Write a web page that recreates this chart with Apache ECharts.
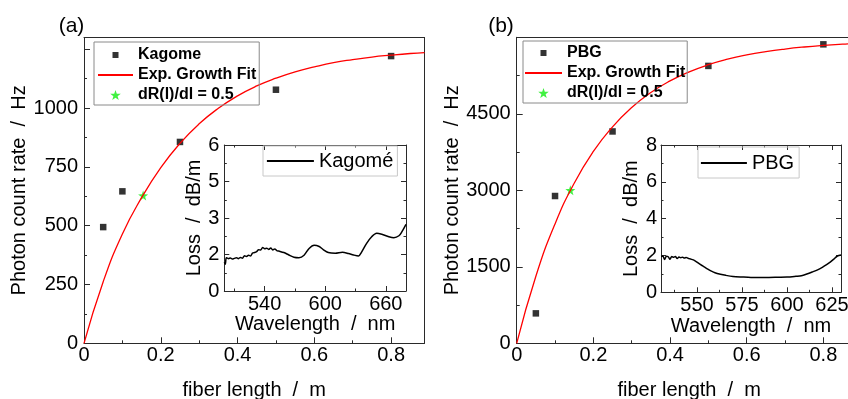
<!DOCTYPE html>
<html>
<head>
<meta charset="utf-8">
<script src="https://cdn.jsdelivr.net/npm/echarts@6/dist/echarts.min.js"></script>
<style>
    html, body { margin: 0; padding: 0; background: #fff; }
    #chart { width: 848px; height: 399px; }
</style>
</head>
<body>
<div id="chart"></div>
<script>
// (a) Kagome fibre
const kagLen = [0.05, 0.1, 0.25, 0.5, 0.8];
const kagRate = [494, 646, 856, 1078, 1221];
const kagStarLen = [0.154];
const kagStarRate = [628];
const kagFitLen = [0, 0.05, 0.1, 0.15, 0.2, 0.25, 0.3, 0.35, 0.4, 0.45, 0.5, 0.55, 0.6, 0.65, 0.7, 0.75, 0.8, 0.85, 0.887];
const kagFitRate = [0, 262, 465, 619, 747, 850, 933, 999, 1052, 1094, 1127, 1154, 1175, 1193, 1206, 1217, 1225, 1232, 1236];

// (b) PBG fibre
const pbgLen = [0.05, 0.1, 0.25, 0.5, 0.8];
const pbgRate = [587, 2888, 4154, 5439, 5862];
const pbgStarLen = [0.14];
const pbgStarRate = [3000];
const pbgFitLen = [0, 0.05, 0.1, 0.15, 0.2, 0.25, 0.3, 0.35, 0.4, 0.45, 0.5, 0.55, 0.6, 0.65, 0.7, 0.75, 0.8, 0.85, 0.9];
const pbgFitRate = [0, 1316, 2341, 3139, 3761, 4245, 4623, 4917, 5145, 5323, 5462, 5570, 5654, 5719, 5770, 5810, 5841, 5865, 5884];

// insets: loss spectra
const kagWl = [500, 501, 502, 504, 506, 508, 510, 512, 514, 516, 518, 520, 522, 524, 526, 528, 530, 532, 534, 536,
    538, 540, 542, 544, 546, 548, 550, 552, 554, 559, 564, 569, 574, 579, 584, 589, 594, 598, 603, 610,
    617, 623, 628, 633, 636, 641, 646, 651, 656, 663, 668, 673, 676, 680];
const kagLoss = [1.18, 1.10, 1.37, 1.33, 1.36, 1.31, 1.34, 1.37, 1.33, 1.38, 1.35, 1.45, 1.42, 1.47, 1.44, 1.56, 1.58, 1.62, 1.70, 1.68,
    1.79, 1.74, 1.76, 1.71, 1.77, 1.69, 1.73, 1.66, 1.64, 1.58, 1.48, 1.39, 1.37, 1.47, 1.75, 1.88, 1.83, 1.70, 1.58, 1.55,
    1.59, 1.54, 1.48, 1.44, 1.60, 1.96, 2.23, 2.37, 2.33, 2.23, 2.19, 2.27, 2.44, 2.74];
const pbgWl = [530, 531, 532, 533, 534, 535, 536, 537, 538, 539, 540, 541, 542, 543, 544, 545, 546, 548, 550, 552,
    554, 556, 558, 560, 563, 566, 570, 575, 580, 585, 590, 595, 600, 605, 608, 611, 614, 617, 620, 622,
    624, 626, 628, 630];
const pbgLoss = [1.95, 1.97, 1.78, 1.96, 1.93, 1.80, 1.95, 1.90, 1.94, 1.83, 1.92, 1.88, 1.91, 1.86, 1.89, 1.85, 1.82, 1.76, 1.64, 1.50,
    1.38, 1.26, 1.15, 1.06, 0.98, 0.92, 0.86, 0.83, 0.81, 0.81, 0.81, 0.82, 0.83, 0.87, 0.90, 0.99, 1.10, 1.22, 1.38, 1.50,
    1.64, 1.80, 1.97, 2.02];

// tick values
const aLenTicks = [0, 0.2, 0.4, 0.6, 0.8];
const aLenMinor = [0.1, 0.3, 0.5, 0.7];
const aRateTicks = [0, 250, 500, 750, 1000, 1250];
const aRateLabels = [0, 250, 500, 750, 1000];
const aRateMinor = [125, 375, 625, 875, 1125];
const bRateTicks = [0, 1500, 3000, 4500, 6000];
const bRateLabels = [0, 1500, 3000, 4500];
const bRateMinor = [750, 2250, 3750, 5250];
const kagWlTicks = [540, 600, 660];
const kagWlMinor = [510, 570, 630];
const kagLossTicks = [0, 1.5, 3, 4.5, 6];
const kagLossMinor = [0.75, 2.25, 3.75, 5.25];
const pbgWlTicks = [550, 575, 600, 625];
const pbgWlMinor = [537.5, 562.5, 587.5, 612.5];
const pbgLossTicks = [0, 2, 4, 6, 8];
const pbgLossMinor = [1, 3, 5, 7];

const FONT = '"Liberation Sans", Arial, sans-serif';
const AX = '#2a2a2a';
const RED = '#ff0000';
const GREEN = '#11ee11';
const STAR = 'path://M0,-10L2.351,-3.236L9.511,-3.090L3.804,1.236L5.878,8.090L0,4L-5.878,8.090L-3.804,1.236L-9.511,-3.090L-2.351,-3.236Z';
const SQUARE_ICON = 'path://M0,0M2,2L8,2L8,8L2,8ZM10,10';

const zip = (xs, ys) => xs.map((x, i) => [x, ys[i]]);
const xAxes = [], yAxes = [];

// one labelled side + minor ticks + opposite frame side, returns index of labelled axis
function axisSet(gi, dim, range, o) {
    const list = dim === 'x' ? xAxes : yAxes;
    const near = dim === 'x' ? 'bottom' : 'left';
    const far = dim === 'x' ? 'top' : 'right';
    const base = (pos) => ({
        type: 'value', gridIndex: gi, position: pos, min: range[0], max: range[1],
        splitLine: {show: false}, axisLabel: {show: false}, axisTick: {show: false},
        axisLine: {show: false, onZero: false, lineStyle: {color: AX, width: 1}}
    });
    const ticks = (vals, len) => ({show: true, inside: true, length: len, customValues: vals, lineStyle: {color: AX, width: 1}});

    const main = base(near);
    main.axisLine.show = true;
    main.axisTick = ticks(o.major, o.len);
    main.axisLabel = {
        show: true, customValues: o.labels, margin: o.margin, color: '#000', fontSize: 20, fontFamily: FONT,
        formatter: o.formatter || (v => String(v))
    };
    main.name = o.name;
    main.nameLocation = 'middle';
    main.nameGap = o.nameGap;
    main.nameTextStyle = {color: '#000', fontSize: 20, fontFamily: FONT};
    const idx = list.length;
    list.push(main);

    const minor = base(near);
    minor.axisTick = ticks(o.minor, o.len / 2);
    list.push(minor);

    const opp = base(far);
    opp.axisLine.show = true;
    if (o.mirror) {
        opp.axisTick = ticks(o.major, o.len);
        const opp2 = base(far);
        opp2.axisTick = ticks(o.minor, o.len / 2);
        list.push(opp, opp2);
    } else {
        list.push(opp);
    }
    return idx;
}

const grids = [
    {left: 84, top: 37.5, width: 340.5, height: 305.8, outerBoundsMode: 'none'},
    {left: 224.3, top: 145, width: 181.7, height: 146, outerBoundsMode: 'none'},
    {left: 516.7, top: 37.3, width: 345, height: 306, outerBoundsMode: 'none'},
    {left: 661, top: 145, width: 180, height: 147.3, outerBoundsMode: 'none'}
];

const aX = axisSet(0, 'x', [0, 0.887], {major: aLenTicks, minor: aLenMinor, labels: aLenTicks, len: 6, margin: 2, name: 'fiber length  /  m', nameGap: 37});
const aY = axisSet(0, 'y', [0, 1300], {major: aRateTicks, minor: aRateMinor, labels: aRateLabels, len: 6, margin: 6, name: 'Photon count rate  /  Hz', nameGap: 53});
const iaX = axisSet(1, 'x', [500, 680], {major: kagWlTicks, minor: kagWlMinor, labels: kagWlTicks, len: 5, margin: 3, name: 'Wavelength  /  nm', nameGap: 20, mirror: true});
const iaY = axisSet(1, 'y', [0, 6], {major: kagLossTicks, minor: kagLossMinor, labels: kagLossTicks, len: 5, margin: 5, name: 'Loss  /  dB/m', nameGap: 9, mirror: true, formatter: v => String(Math.round(v))});
const bX = axisSet(2, 'x', [0, 0.9], {major: aLenTicks, minor: aLenMinor, labels: aLenTicks, len: 6, margin: 2, name: 'fiber length  /  m', nameGap: 37});
const bY = axisSet(2, 'y', [0, 6000], {major: bRateTicks, minor: bRateMinor, labels: bRateLabels, len: 6, margin: 6, name: 'Photon count rate  /  Hz', nameGap: 54});
const ibX = axisSet(3, 'x', [530, 630], {major: pbgWlTicks, minor: pbgWlMinor, labels: pbgWlTicks, len: 5, margin: 3, name: 'Wavelength  /  nm', nameGap: 24, mirror: true});
const ibY = axisSet(3, 'y', [0, 8], {major: pbgLossTicks, minor: pbgLossMinor, labels: pbgLossTicks, len: 5, margin: 4, name: 'Loss  /  dB/m', nameGap: 14, mirror: true});

const mainLegend = (left, top, first, pad, itemWidth) => ({
    orient: 'vertical', left: left, top: top, padding: pad, itemGap: 4, itemWidth: itemWidth, itemHeight: 10,
    borderColor: '#8a8a8a', borderWidth: 1, selectedMode: false,
    textStyle: {fontSize: 16, fontWeight: 'bold', color: '#000', fontFamily: FONT},
    data: [
        {name: first, icon: SQUARE_ICON},
        {name: 'Exp. Growth Fit', itemStyle: {opacity: 0}},
        {name: 'dR(l)/dl = 0.5'}
    ]
});
const insetLegend = (left, top, name, pad, itemWidth) => ({
    left: left, top: top, padding: pad, itemWidth: itemWidth, itemHeight: 14,
    borderColor: '#c8c8c8', borderWidth: 1, selectedMode: false,
    lineStyle: {width: 1.8},
    textStyle: {fontSize: 20, color: '#000', fontFamily: FONT},
    formatter: n => n.replace(' loss', ''),
    data: [{name: name, itemStyle: {opacity: 0}}]
});

const chart = echarts.init(document.getElementById('chart'));
chart.setOption({
    animation: false,
    backgroundColor: '#fff',
    grid: grids,
    xAxis: xAxes,
    yAxis: yAxes,
    legend: [
        mainLegend(94, 42, 'Kagome', [5, 3, 2, 3], 35),
        mainLegend(523, 41, 'PBG', [4, 2, 2, 1], 37),
        insetLegend(263, 146, 'Kagomé loss', [5, 4, 5, 3], 47),
        insetLegend(698, 147, 'PBG loss', [6, 5, 5, 2], 46)
    ],
    graphic: [
        {type: 'text', x: 71.5, y: 26, style: {text: '(a)', font: '21px ' + FONT, fill: '#000', textAlign: 'center', textVerticalAlign: 'middle'}},
        {type: 'text', x: 501, y: 26, style: {text: '(b)', font: '21px ' + FONT, fill: '#000', textAlign: 'center', textVerticalAlign: 'middle'}}
    ],
    series: [
        {type: 'line', name: 'Exp. Growth Fit', xAxisIndex: aX, yAxisIndex: aY, data: zip(kagFitLen, kagFitRate),
            smooth: 0.5, symbol: 'none', lineStyle: {color: RED, width: 1.3}, itemStyle: {color: RED}},
        {type: 'scatter', name: 'Kagome', xAxisIndex: aX, yAxisIndex: aY, data: zip(kagLen, kagRate),
            symbol: 'rect', symbolSize: 6.5, itemStyle: {color: '#000'}},
        {type: 'scatter', name: 'dR(l)/dl = 0.5', xAxisIndex: aX, yAxisIndex: aY, data: zip(kagStarLen, kagStarRate),
            symbol: STAR, symbolSize: 10, itemStyle: {color: GREEN}},
        {type: 'line', name: 'Kagomé loss', xAxisIndex: iaX, yAxisIndex: iaY, data: zip(kagWl, kagLoss),
            smooth: 0.3, symbol: 'none', lineStyle: {color: '#000', width: 1.5}, itemStyle: {color: '#000'}},
        {type: 'line', name: 'Exp. Growth Fit', xAxisIndex: bX, yAxisIndex: bY, data: zip(pbgFitLen, pbgFitRate),
            smooth: 0.5, symbol: 'none', lineStyle: {color: RED, width: 1.3}, itemStyle: {color: RED}},
        {type: 'scatter', name: 'PBG', xAxisIndex: bX, yAxisIndex: bY, data: zip(pbgLen, pbgRate),
            symbol: 'rect', symbolSize: 6.5, itemStyle: {color: '#000'}},
        {type: 'scatter', name: 'dR(l)/dl = 0.5', xAxisIndex: bX, yAxisIndex: bY, data: zip(pbgStarLen, pbgStarRate),
            symbol: STAR, symbolSize: 10, itemStyle: {color: GREEN}},
        {type: 'line', name: 'PBG loss', xAxisIndex: ibX, yAxisIndex: ibY, data: zip(pbgWl, pbgLoss),
            smooth: 0.3, symbol: 'none', lineStyle: {color: '#000', width: 1.5}, itemStyle: {color: '#000'}}
    ]
});
</script>
</body>
</html>
